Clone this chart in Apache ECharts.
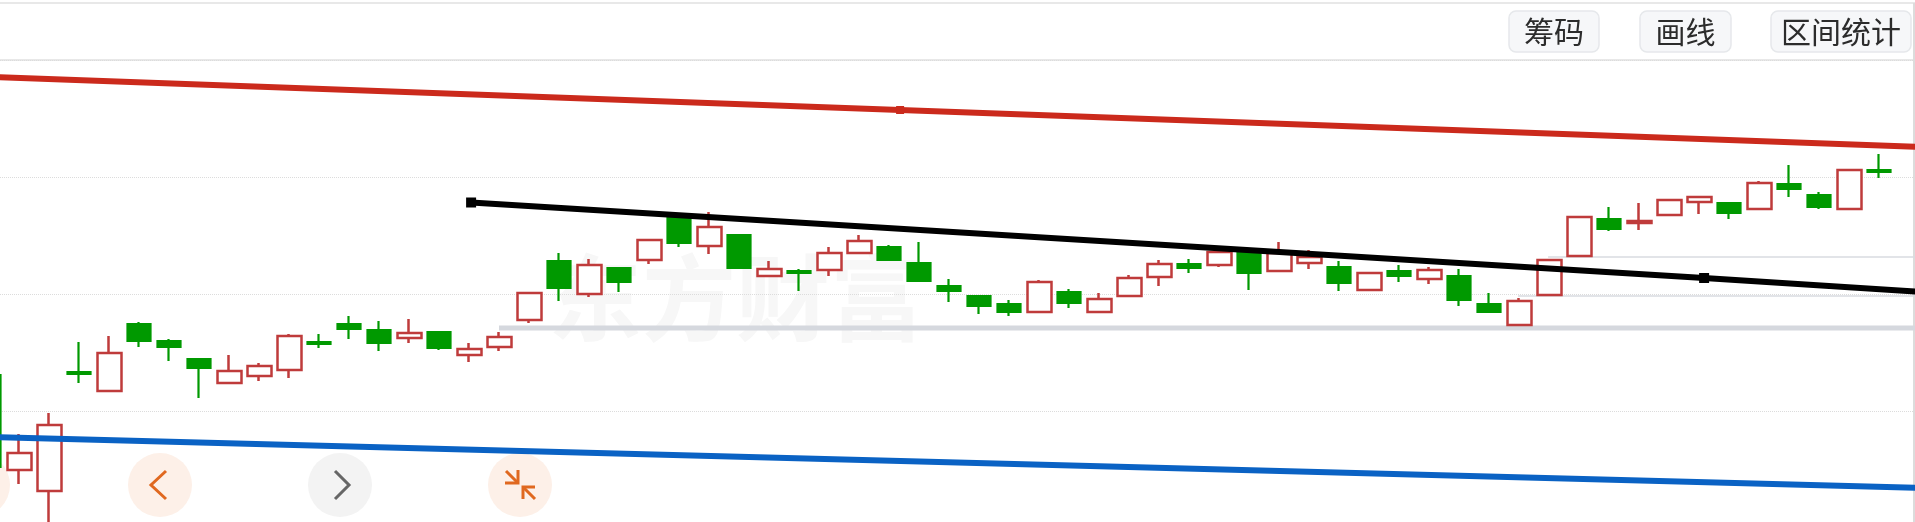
<!DOCTYPE html>
<html>
<head>
<meta charset="utf-8">
<style>
  html, body { margin: 0; padding: 0; background: #fff; overflow: hidden; }
  #chart { width: 1915px; height: 522px; }
</style>
<script src="https://cdn.jsdelivr.net/npm/echarts@6/dist/echarts.min.js"></script>
</head>
<body>
<div id="chart"></div>
<script>
const opens = [1.53,0.58,0.37,1.56,1.37,2.04,1.87,1.69,1.45,1.52,1.58,1.86,2.04,1.98,1.90,1.96,
  1.73,1.81,2.08,2.67,2.34,2.60,2.68,3.11,2.82,2.93,2.52,2.57,2.58,2.75,2.81,2.65,
  2.42,2.32,2.24,2.16,2.36,2.16,2.32,2.51,2.64,2.63,2.75,2.57,2.65,2.61,2.38,2.57,
  2.49,2.52,2.24,2.03,2.33,2.72,3.09,3.05,3.13,3.26,3.25,3.19,3.44,3.33,3.19,3.58]
const closes = [0.61,0.75,1.03,1.54,1.75,1.87,1.81,1.60,1.57,1.62,1.92,1.84,1.99,1.85,1.95,1.80,
  1.79,1.91,2.35,2.40,2.63,2.46,2.88,2.85,3.01,2.60,2.59,2.55,2.75,2.87,2.68,2.47,
  2.37,2.22,2.16,2.46,2.25,2.29,2.50,2.64,2.60,2.76,2.55,2.75,2.71,2.45,2.55,2.52,
  2.58,2.28,2.16,2.27,2.68,3.11,2.99,3.07,3.28,3.31,3.15,3.45,3.39,3.21,3.58,3.56]
const lows = [0.61,0.44,0,1.45,1.37,1.81,1.67,1.30,1.45,1.47,1.50,1.80,1.89,1.77,1.85,1.78,
  1.66,1.77,2.05,2.27,2.31,2.36,2.64,2.81,2.74,2.60,2.52,2.37,2.52,2.75,2.67,2.47,
  2.26,2.14,2.12,2.15,2.20,2.16,2.32,2.42,2.55,2.61,2.38,2.57,2.59,2.37,2.38,2.46,
  2.44,2.22,2.15,2.03,2.33,2.71,2.97,2.98,3.12,3.14,3.09,3.19,3.31,3.19,3.19,3.50]
const highs = [1.53,0.94,1.15,1.86,1.92,2.06,1.89,1.69,1.73,1.65,1.94,1.94,2.12,2.07,2.09,1.96,
  1.85,1.96,2.35,2.75,2.69,2.60,2.88,3.12,3.16,2.93,2.67,2.59,2.81,2.93,2.83,2.86,
  2.49,2.33,2.28,2.48,2.39,2.35,2.53,2.68,2.69,2.78,2.76,2.86,2.78,2.67,2.56,2.63,
  2.61,2.59,2.35,2.30,2.68,3.12,3.21,3.25,3.29,3.32,3.26,3.47,3.63,3.36,3.58,3.74]

// hand drawn lines, [bar index, price]
const redLine = [[0.2,4.51],[30.37,4.18],[64.5,3.81]]
const blueLine = [[0.2,0.91],[64.5,0.40]]
const blackLine = [[16.07,3.255],[57.17,2.50],[64.5,2.36]]
const levelLow = [[17,2.00],[64.5,2.00]]
const levelMid = [[50.97,2.32],[64.5,2.32]]
const levelHigh = [[51.97,2.71],[64.5,2.71]]

const buttonLabels = ["筹码", "画线", "区间统计"]
const watermark = "东方财富"

const RED = "#bf3b3b"
const GREEN = "#009900"
const ORANGE = "#e0681f"

const barCount = opens.length + 2 // two empty slots so the axis runs past the right edge
const categories = Array.from({ length: barCount }, (_, i) => String(i))

const rising = opens.map((o, i) =>
  closes[i] >= o ? [o, closes[i], lows[i], highs[i]] : ["-", "-", "-", "-"])
const falling = opens.map((o, i) =>
  closes[i] < o ? [o, closes[i], lows[i], highs[i]] : ["-", "-", "-", "-"])

function candleSeries(data, fill, stroke, width, border) {
  return {
    type: "candlestick",
    data,
    barWidth: width,
    z: 3,
    clip: false,
    itemStyle: {
      color: fill,
      color0: fill,
      borderColor: stroke,
      borderColor0: stroke,
      borderColorDoji: stroke,
      borderWidth: border,
    },
  }
}

function drawnLine(data, color, width, z, handleIndexes, handleSize) {
  return {
    type: "line",
    xAxisIndex: 1,
    data,
    z,
    symbol: "rect",
    symbolSize: (_, p) => (handleIndexes.includes(p.dataIndex) ? handleSize : 0),
    showAllSymbol: true,
    lineStyle: { color, width },
    itemStyle: { color },
    emphasis: { disabled: true },
  }
}

function button(x, y, w, h, label) {
  return [
    {
      type: "rect",
      shape: { x, y, width: w, height: h, r: 7 },
      style: { fill: "#f6f7f9", stroke: "#e6e8eb", lineWidth: 1.5 },
    },
    {
      type: "text",
      x: x + w / 2,
      y: y + h / 2,
      style: {
        text: label,
        fill: "#2c2c2c",
        font: '30px "Noto Sans CJK SC"',
        align: "center",
        verticalAlign: "middle",
      },
    },
  ]
}

function roundBtn(cx, fill) {
  return { type: "circle", shape: { cx, cy: 485, r: 32 }, style: { fill } }
}

function stroke(points, color) {
  return {
    type: "polyline",
    shape: { points },
    style: { stroke: color, fill: null, lineWidth: 3 },
  }
}

const chart = echarts.init(document.getElementById("chart"))

chart.setOption({
  animation: false,
  backgroundColor: "#fff",
  // the view is panned: first bar and the bottom of the scale sit past the canvas
  grid: { left: -26, top: 60, width: 1980, height: 468, outerBoundsMode: "none" },
  xAxis: [
    { type: "category", data: categories, show: false },
    { type: "value", min: -0.5, max: barCount - 0.5, show: false },
  ],
  yAxis: {
    type: "value",
    min: 0,
    max: 4.68,
    interval: 1.17,
    axisLine: { show: false },
    axisTick: { show: false },
    axisLabel: { show: false },
    splitLine: { lineStyle: { color: "#dcdcdc", type: "dotted", width: 1 } },
  },
  series: [
    drawnLine(levelLow, "#d5d8de", 5, 1, [], 0),
    drawnLine(levelMid, "#d9dbe0", 1.5, 1, [], 0),
    drawnLine(levelHigh, "#d9dbe0", 1.5, 1, [], 0),
    candleSeries(rising, "#fff", RED, 24.5, 2.5),
    candleSeries(falling, GREEN, GREEN, 23, 2.2),
    drawnLine(redLine, "#cb2a1c", 6, 5, [1], 8),
    drawnLine(blueLine, "#0a62c4", 6, 5, [], 0),
    drawnLine(blackLine, "#000", 6, 5, [0, 1], 10),
  ],
  graphic: [
    {
      type: "text",
      x: 736,
      y: 298,
      z: -1,
      style: {
        text: watermark,
        fill: "#f7f7f7",
        font: 'bold 94px "Noto Sans CJK SC"',
        align: "center",
        verticalAlign: "middle",
      },
    },
    { type: "line", shape: { x1: 0, y1: 3, x2: 1915, y2: 3 }, style: { stroke: "#e8e8e8", lineWidth: 2 } },
    { type: "line", shape: { x1: 0, y1: 60, x2: 1915, y2: 60 }, style: { stroke: "#e8e8e8", lineWidth: 2 } },
    { type: "line", shape: { x1: 1914, y1: 3, x2: 1914, y2: 522 }, style: { stroke: "#dcdcdc", lineWidth: 2 } },
    ...button(1509, 11, 90, 41, buttonLabels[0]),
    ...button(1640, 11, 91, 41, buttonLabels[1]),
    ...button(1771, 11, 140, 41, buttonLabels[2]),
    roundBtn(-22, "#fdf0e8"),
    roundBtn(160, "#fdf0e8"),
    roundBtn(340, "#f3f3f3"),
    roundBtn(520, "#fdf0e8"),
    stroke([[166, 471], [151, 485], [166, 499]], ORANGE),
    stroke([[335, 471], [349, 485], [335, 499]], "#666"),
    stroke([[506, 471], [518, 483]], ORANGE),
    stroke([[505, 483], [518, 483], [518, 470]], ORANGE),
    stroke([[535, 499], [523, 487]], ORANGE),
    stroke([[535, 487], [523, 487], [523, 499]], ORANGE),
  ],
})
</script>
</body>
</html>
